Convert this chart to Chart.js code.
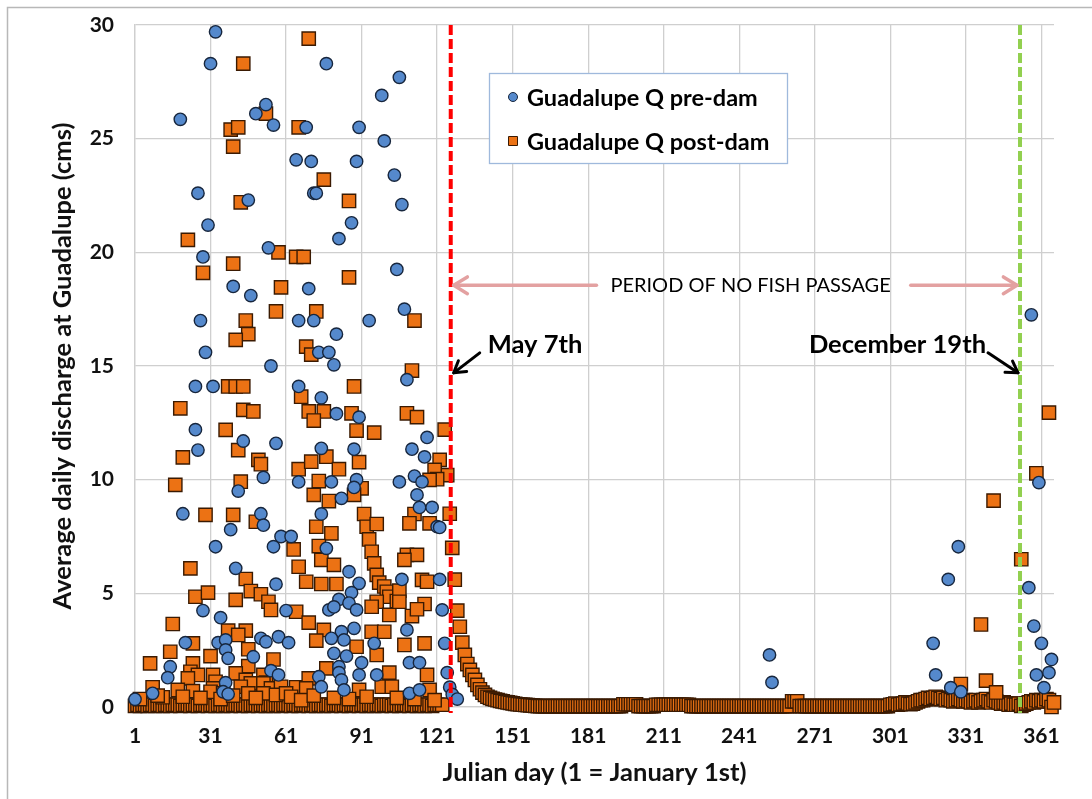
<!DOCTYPE html>
<html>
<head>
<meta charset="utf-8">
<title>Guadalupe daily discharge</title>
<script src="https://cdn.jsdelivr.net/npm/chart.js@4.4.1/dist/chart.umd.min.js"></script>
<style>
  html, body { margin: 0; padding: 0; background: #fff; }
  #wrap { width: 1092px; height: 799px; }
</style>
</head>
<body>
<div id="wrap"><canvas id="flowChart" width="1092" height="799"></canvas></div>
<script>
// ---- data: [julian day, discharge cms] ----
const dayTicks = [1, 31, 61, 91, 121, 151, 181, 211, 241, 271, 301, 331, 361];
const flowTicks = [0, 5, 10, 15, 20, 25, 30];

const preDamSpring = [
  [33,29.7],[31,28.3],[19,25.85],[53,26.5],[49,26.1],[56,25.6],[65,24.07],[26,22.6],[46,22.3],[30,21.2],
  [28,19.8],[54,20.2],[40,18.5],[47,18.1],[27,17.0],[66,17.0],[29,15.6],[55,15.0],[25,14.1],[32,14.1],[66,14.1],
  [77,28.3],[106,27.7],[99,26.9],[69,25.5],[90,25.5],[100,24.9],[71,24.0],[89,24.0],[104,23.4],[72,22.6],
  [73,22.6],[107,22.1],[87,21.3],[82,20.6],[105,19.25],[70,18.4],[108,17.5],[72,17.0],[94,17.0],[81,16.4],
  [74,15.6],[78,15.6],[80,15.05],[109,14.4],[75,13.6],
  [25,12.2],[26,11.3],[44,11.7],[57,11.6],[42,9.5],[52,10.1],[66,9.9],[20,8.5],[51,8.5],[52,8.0],[39,7.8],
  [33,7.05],[56,7.05],[59,7.5],[63,7.5],[41,6.1],[57,5.4],[28,4.24],[35,3.93],[61,4.24],[21,2.83],[34,2.83],
  [37,2.95],[51,3.02],[53,2.87],[58,3.09],[62,2.83],[37,2.51],[38,2.14],[15,1.77],[14,1.29],[48,2.21],
  [55,1.6],[58,1.41],[37,1.07],[1,0.34],[8,0.6],[36,0.67],[38,0.57],
  [81,12.9],[90,12.75],[117,11.86],[88,11.34],[75,11.38],[111,11.34],[116,11.0],[79,9.9],[89,10.0],[106,9.9],
  [112,10.16],[115,9.9],[83,9.18],[88,9.66],[113,9.33],[75,8.49],[114,8.78],[119,8.78],[121,7.93],[77,6.98],
  [86,5.95],[90,5.44],[87,5.03],[107,5.61],[122,5.61],[82,4.73],[78,4.27],[80,4.4],[86,4.57],[89,4.27],
  [123,4.27],[88,3.46],[83,3.31],[79,3.02],[84,2.95],[96,2.8],[109,3.39],[124,2.8],[80,2.36],[85,2.24],
  [91,1.95],[110,1.95],[114,1.95],[82,1.77],[82,1.51],[83,1.19],[74,1.33],[90,1.41],[97,1.41],[125,1.51],
  [126,0.87],[127,0.55],[75,0.89],[84,0.75],[110,0.6],[114,0.75],[122,7.9],[129,0.35]
];
const preDamFall = [
  [253,2.29],[254,1.08],[318,2.8],[319,1.41],[324,5.61],[325,0.85],[328,7.05],[329,0.67],
  [356,5.25],[357,17.25],[358,3.56],[359,1.41],[360,9.87],[361,2.8],[362,0.85],[364,1.51],[365,2.09]
];

const postDamSpring = [
  [44,28.3],[53,26.1],[39,25.4],[42,25.5],[66,25.5],[40,24.65],[43,22.2],[22,20.55],[58,20.0],[65,19.8],
  [68,19.8],[40,19.5],[28,19.1],[59,18.46],[57,17.4],[45,17.0],[46,16.4],[41,16.15],[38,14.1],[41,14.1],[44,14.1],
  [70,29.4],[76,23.2],[86,22.26],[86,18.9],[73,17.4],[112,17.0],[69,15.85],[71,15.5],[111,14.8],[88,14.1],[67,13.65],
  [19,13.14],[44,13.07],[48,13.0],[37,12.19],[20,10.98],[42,11.3],[50,10.87],[51,10.68],[17,9.77],[43,9.91],
  [66,10.46],[29,8.45],[40,8.45],[49,8.15],[64,6.93],[66,6.17],[23,6.1],[45,5.63],[47,5.1],[25,4.85],[30,5.03],
  [51,4.96],[54,4.63],[55,4.27],[41,4.71],[65,4.19],[16,3.65],[38,3.36],[45,3.36],[42,3.17],[24,2.8],[46,2.54],
  [15,2.43],[31,2.24],[7,1.92],[56,2.09],[46,1.8],[24,1.92],[23,1.55],[32,1.41],[26,1.41],[41,1.48],[52,1.41],
  [22,1.26],[33,1.11],[45,1.19],[56,1.33],[8,0.87],[18,0.75],[24,0.7],[47,1.04],[53,1.07],[52,1.04],[65,0.87],
  [32,0.82],[43,0.89],[55,0.82],[59,0.89],[12,0.43],[31,0.67],[36,0.6],[46,0.6],[52,0.6],[57,0.53],[61,0.6],
  [70,13.0],[76,13.0],[72,12.6],[87,12.92],[109,12.92],[113,12.75],[89,12.16],[96,12.07],[77,11.01],[71,10.79],
  [90,10.77],[82,10.46],[122,10.87],[120,10.43],[121,10.02],[118,9.99],[74,9.94],[72,9.33],[91,9.62],[88,9.33],
  [78,9.06],[92,8.49],[93,7.93],[94,7.37],[95,6.83],[96,6.32],[97,5.81],[98,5.47],[100,5.3],[101,5.07],[102,4.85],
  [97,8.05],[112,8.49],[110,8.08],[118,8.08],[73,7.93],[79,7.64],[74,7.08],[75,6.47],[80,6.25],[105,4.66],
  [106,5.12],[109,6.69],[113,6.69],[108,6.47],[115,5.59],[117,5.51],[69,5.51],[75,5.41],[81,5.41],[97,4.63],
  [95,4.41],[102,4.05],[106,4.63],[111,4.0],[116,4.53],[113,4.3],[70,3.71],[76,3.39],[73,2.92],[95,3.31],
  [100,3.31],[89,2.65],[108,2.73],[116,2.8],[97,2.29],[102,1.51],[117,1.41],[77,1.7],[70,1.26],[69,0.82],
  [90,0.75],[99,0.89],[103,0.89],[118,0.75],
  [3,0.35],[10,0.5],[20,0.45],[27,0.4],[35,0.35],[40,0.5],[49,0.4],[63,0.45],[67,0.3],[72,0.5],
  [80,0.4],[86,0.35],[93,0.45],[105,0.4],[112,0.35],[120,0.3]
];
const postDamFall = [
  [329,1.01],[337,3.63],[339,1.16],[342,9.08],[343,0.64],[353,6.5],[359,10.28],[364,12.95]
];

// post-dam flow for each day 1..366 (lowest year), includes the May recession
const postDamDailyLow = [
  0.05,0.1,0.05,0.1,0.1,0.05,0.1,0.1,0.05,0.1,0.1,0.05,0.1,0.1,0.05,0.1,0.1,0.1,0.05,0.1,0.1,0.1,0.05,0.1,0.1,0.05,0.1,0.1,0.1,0.05,
  0.1,0.1,0.05,0.1,0.1,0.05,0.1,0.1,0.05,0.1,0.1,0.1,0.05,0.1,0.1,0.05,0.1,0.1,0.1,0.05,0.1,0.1,0.05,0.1,0.1,0.05,0.1,0.1,0.05,0.1,
  0.1,0.1,0.05,0.1,0.1,0.05,0.1,0.1,0.1,0.05,0.1,0.1,0.05,0.1,0.1,0.05,0.1,0.1,0.05,0.1,0.1,0.1,0.05,0.1,0.1,0.05,0.1,0.1,0.1,0.05,
  0.1,0.1,0.05,0.1,0.1,0.05,0.1,0.1,0.05,0.1,0.1,0.1,0.05,0.1,0.1,0.05,0.1,0.1,0.1,0.05,0.1,0.1,0.05,0.1,0.1,0.05,0.1,0.1,0.05,0.1,
  0.1,0.1,0.1,
  12.2,10.2,8.5,7.0,5.6,4.24,3.53,2.83,2.29,1.89,1.63,1.41,1.19,0.97,0.78,0.63,0.53,0.45,0.4,0.36,0.33,0.3,0.27,0.25,0.22,0.2,0.18,0.16,0.14,0.12,
  0.11,0.1,0.09,0.08,0.07,0.06,0.05,
  0.04,0.04,0.04,0.04,0.04,0.04,0.04,0.04,0.04,0.04,0.04,0.04,0.04,0.04,0.04,0.04,0.04,0.04,0.04,0.04,0.04,0.04,0.04,0.04,0.04,0.04,0.04,0.04,0.04,0.04,
  0.04,0.04,0.04,0.04,0.12,0.12,0.12,0.12,0.12,0.12,0.04,0.04,0.04,0.04,0.04,0.04,0.04,0.1,0.1,0.1,0.1,0.1,0.1,0.1,0.1,0.1,0.1,0.1,0.1,0.1,
  0.1,0.04,0.04,0.04,0.04,0.04,0.04,0.04,0.04,0.04,0.04,0.04,0.04,0.04,0.04,0.04,0.04,0.04,0.04,0.04,0.04,0.04,0.04,0.04,0.04,0.04,0.04,0.04,0.04,0.04,
  0.04,0.04,0.04,0.04,0.04,0.04,0.04,0.04,0.04,0.04,0.04,0.25,0.25,0.25,0.04,0.04,0.04,0.04,0.04,0.04,0.04,0.04,0.04,0.04,0.04,0.04,0.04,0.04,0.04,0.04,
  0.04,0.04,0.04,0.04,0.04,0.04,0.04,0.04,0.04,0.04,0.04,0.04,0.04,0.04,0.04,0.04,0.04,0.04,0.04,0.04,
  0.1,0.12,0.15,0.1,0.12,0.15,0.2,0.15,0.12,0.15,0.2,0.25,0.3,0.3,0.35,0.4,0.35,0.4,0.45,0.4,
  0.35,0.4,0.3,0.35,0.3,0.25,0.3,0.35,0.3,0.25,0.3,0.25,0.2,0.25,0.3,0.2,0.25,0.3,0.35,0.25,
  0.2,0.3,0.25,0.2,0.15,0.2,0.15,0.1,0.15,0.1,0.1,0.15,0.05,0.1,0.15,0.2,0.25,0.2,0.3,0.25,
  0.3,0.25,0.35,0.3,0.0,0.2
];

const mayDay = 126.4;     // May 7th marker
const decDay = 352.5;     // December 19th marker
const passageLevel = 18.55;

const FONT = "Lato, 'Open Sans', sans-serif";
const preColor = '#5589cc', preEdge = '#17263d';
const postColor = '#ec7214', postEdge = '#3a1a02';

const toXY = list => list.map(p => ({ x: p[0], y: p[1] }));
const prePoints = toXY(preDamSpring.concat(preDamFall));
const postPoints = postDamDailyLow.map((q, i) => ({ x: i + 1, y: q }))
  .concat(toXY(postDamSpring.concat(postDamFall)));

function drawArrow(ctx, x1, y1, x2, y2, head, color, width) {
  ctx.setLineDash([]);
  ctx.strokeStyle = color;
  ctx.lineWidth = width;
  ctx.lineCap = 'round';
  ctx.lineJoin = 'round';
  ctx.beginPath();
  ctx.moveTo(x1, y1);
  ctx.lineTo(x2, y2);
  ctx.stroke();
  const ang = Math.atan2(y2 - y1, x2 - x1);
  ctx.beginPath();
  ctx.moveTo(x2 - head * Math.cos(ang - 0.55), y2 - head * Math.sin(ang - 0.55));
  ctx.lineTo(x2, y2);
  ctx.lineTo(x2 - head * Math.cos(ang + 0.55), y2 - head * Math.sin(ang + 0.55));
  ctx.stroke();
}

const chartDecor = {
  id: 'chartDecor',
  beforeDraw(chart) {
    const { ctx } = chart;
    ctx.save();
    ctx.fillStyle = '#fff';
    ctx.fillRect(0, 0, chart.width, chart.height);
    ctx.strokeStyle = '#b8b8b8';
    ctx.lineWidth = 1.5;
    ctx.beginPath();
    ctx.moveTo(7.5, chart.height);
    ctx.lineTo(7.5, 7.5);
    ctx.lineTo(chart.width, 7.5);
    ctx.stroke();
    ctx.restore();
  },
  afterDatasetsDraw(chart) {
    const { ctx, chartArea: area, scales: { x, y } } = chart;
    const mayX = x.getPixelForValue(mayDay);
    const decX = x.getPixelForValue(decDay);
    ctx.save();

    // dashed day markers
    [[mayX, '#ff0000'], [decX, '#92d050']].forEach(([px, color]) => {
      ctx.beginPath();
      ctx.setLineDash([10, 4]);
      ctx.lineWidth = 4;
      ctx.strokeStyle = color;
      ctx.moveTo(px, area.top);
      ctx.lineTo(px, area.bottom + 6);
      ctx.stroke();
    });

    // period of no fish passage
    const py = y.getPixelForValue(passageLevel);
    const label = 'PERIOD OF NO FISH PASSAGE';
    ctx.font = '20px ' + FONT;
    ctx.fillStyle = '#000';
    ctx.textAlign = 'center';
    ctx.textBaseline = 'middle';
    const cx = x.getPixelForValue(245.5);
    ctx.fillText(label, cx, py);
    const half = ctx.measureText(label).width / 2;
    drawArrow(ctx, cx - half - 14, py, mayX + 3, py, 16, '#e3a1a1', 3.5);
    drawArrow(ctx, cx + half + 20, py, decX - 3, py, 16, '#e3a1a1', 3.5);

    // date call-outs
    const ty = y.getPixelForValue(15.93);
    const tipY = y.getPixelForValue(14.7);
    ctx.font = 'bold 25.5px ' + FONT;
    ctx.textAlign = 'left';
    ctx.fillText('May 7th', mayX + 37, ty);
    ctx.textAlign = 'right';
    ctx.fillText('December 19th', decX - 34, ty);
    drawArrow(ctx, mayX + 29, ty + 8, mayX + 3, tipY, 13, '#000', 3);
    drawArrow(ctx, decX - 32, ty + 8, decX - 2, tipY, 13, '#000', 3);

    ctx.restore();
  },
  afterDraw(chart) {
    const { ctx, chartArea: area } = chart;
    const bx = area.left + 354, by = area.top + 48, bw = 298, bh = 90;
    ctx.save();
    ctx.fillStyle = '#fff';
    ctx.fillRect(bx, by, bw, bh);
    ctx.strokeStyle = '#9fb9dc';
    ctx.lineWidth = 1.3;
    ctx.strokeRect(bx + 0.5, by + 0.5, bw, bh);

    ctx.font = 'bold 23.5px ' + FONT;
    ctx.fillStyle = '#000';
    ctx.textAlign = 'left';
    ctx.textBaseline = 'middle';
    chart.data.datasets.forEach((ds, i) => {
      const ry = by + 24 + i * 44;
      const mx = bx + 24;
      ctx.fillStyle = ds.backgroundColor;
      ctx.strokeStyle = ds.borderColor;
      ctx.lineWidth = 1;
      ctx.beginPath();
      if (ds.pointStyle === 'circle') {
        ctx.arc(mx, ry, 4.5, 0, Math.PI * 2);
      } else {
        ctx.rect(mx - 4.5, ry - 4.5, 9, 9);
      }
      ctx.fill();
      ctx.stroke();
      ctx.fillStyle = '#000';
      ctx.fillText(ds.label, bx + 38, ry + 1);
    });
    ctx.restore();
  }
};

new Chart(document.getElementById('flowChart'), {
  type: 'scatter',
  data: {
    datasets: [{
      label: 'Guadalupe Q pre-dam',
      data: prePoints,
      pointStyle: 'circle',
      pointRadius: 6.2,
      pointHoverRadius: 6.2,
      backgroundColor: preColor,
      borderColor: preEdge,
      borderWidth: 1.4,
      clip: 10
    }, {
      label: 'Guadalupe Q post-dam',
      data: postPoints,
      pointStyle: 'rect',
      pointRadius: 9.4,
      pointHoverRadius: 9.4,
      backgroundColor: postColor,
      borderColor: postEdge,
      borderWidth: 1.4,
      clip: 10
    }]
  },
  options: {
    responsive: false,
    animation: false,
    devicePixelRatio: 1,
    layout: { padding: { top: 25, right: 38, bottom: 0, left: 0 } },
    plugins: {
      legend: { display: false },
      tooltip: { enabled: false }
    },
    scales: {
      x: {
        type: 'linear',
        min: 1,
        max: 366,
        afterBuildTicks: scale => { scale.ticks = dayTicks.map(v => ({ value: v })); },
        afterFit: scale => { scale.height = 92; },
        grid: { color: '#cfcfcf', lineWidth: 1.3, drawTicks: false },
        border: { color: '#cfcfcf', width: 1.3 },
        ticks: {
          color: '#111',
          font: { family: FONT, size: 21, weight: 'bold' },
          padding: 17,
          maxRotation: 0
        },
        title: {
          display: true,
          text: 'Julian day (1 = January 1st)',
          color: '#111',
          font: { family: FONT, size: 25.5, weight: 'bold' },
          padding: { top: 0, bottom: 11 }
        }
      },
      y: {
        min: 0,
        max: 30,
        afterBuildTicks: scale => { scale.ticks = flowTicks.map(v => ({ value: v })); },
        afterFit: scale => {
          scale.width = 135;
          // labels sit beside the gridlines, so no extra room above/below is needed
          scale.paddingTop = 0;
          scale.paddingBottom = 0;
        },
        grid: { color: '#cfcfcf', lineWidth: 1.3, drawTicks: false },
        border: { color: '#cfcfcf', width: 1.3 },
        ticks: {
          color: '#111',
          font: { family: FONT, size: 21, weight: 'bold' },
          padding: 21
        },
        title: {
          display: true,
          text: 'Average daily discharge at Guadalupe (cms)',
          color: '#111',
          font: { family: FONT, size: 25.5, weight: 'bold' },
          padding: { top: 47, bottom: 0 }
        }
      }
    }
  },
  plugins: [chartDecor]
});
</script>
</body>
</html>
